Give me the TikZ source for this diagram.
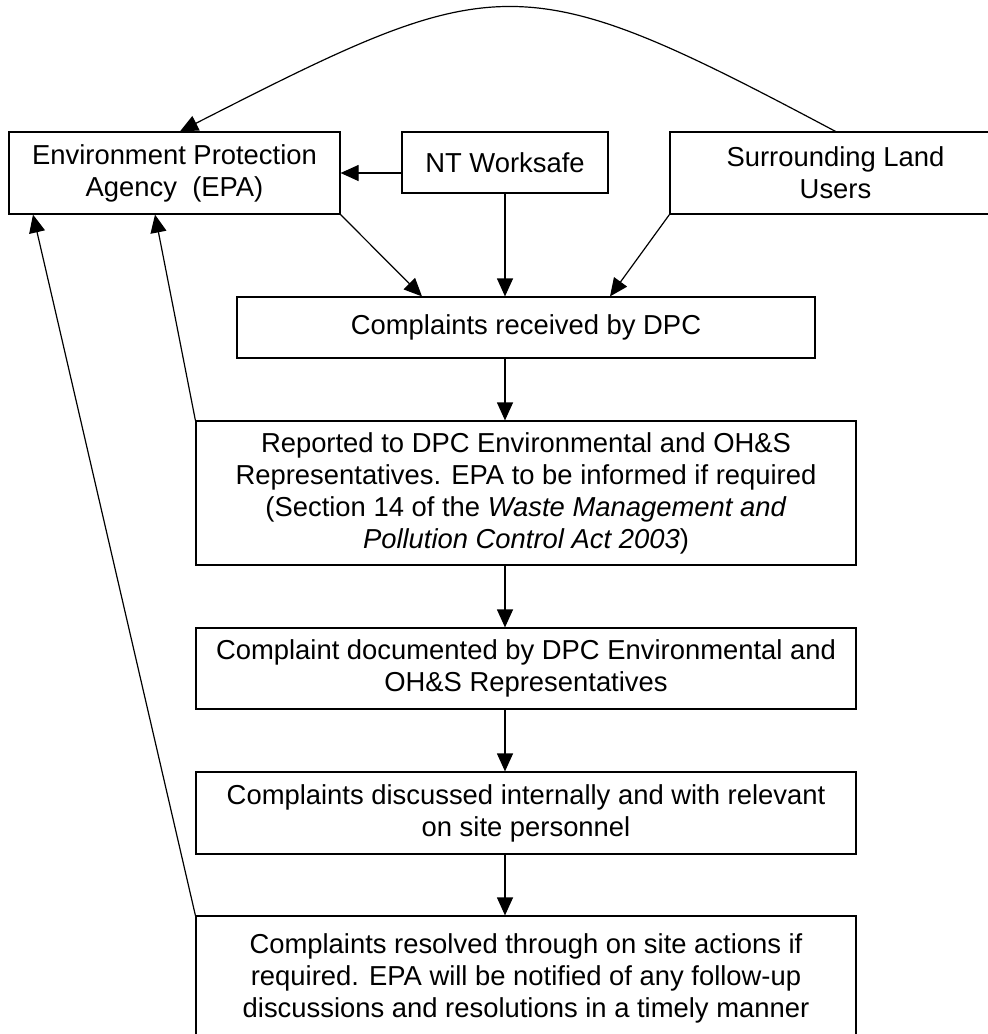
\documentclass[tikz,border=0pt]{standalone}
\usepackage{fontspec}
\setmainfont{Liberation Sans}
\usepackage{tikz}
\usetikzlibrary{
    arrows.meta,
    positioning,
    calc
}
\tikzstyle{arrow} = [
    -{Triangle[length=9pt, width=8pt]},
    line width=0.6pt
]
\tikzstyle{box} = [
    rectangle,
    draw,
    line width=0.6pt,
    align=center,
    inner sep=0pt,
    font=\fontsize{13.7}{16}\selectfont
]

\begin{document}
\begin{tikzpicture}[x=0.5pt, y=-0.5pt]
    % Page frame
    \useasboundingbox (0,0) rectangle (988,1034);
    \clip (0,0) rectangle (988,1034);

    % Sources
    \node[box, minimum width=165.5pt, minimum height=41pt] (epa) at (174.5,173)
        {Environment Protection\\Agency~~(EPA)};
    \node[box, minimum width=103pt, minimum height=30.5pt] (nt) at (505,162.5)
        {NT Worksafe};
    \node[box, minimum width=165.5pt, minimum height=41pt] (slu) at (835.5,173)
        {Surrounding Land\\Users};

    % Process steps
    \node[box, minimum width=289pt, minimum height=30.5pt] (received) at (526,327.5)
        {Complaints received by DPC};
    \node[box, minimum width=330pt, minimum height=72pt] (reported) at (526,493)
        {Reported to DPC Environmental and OH\&S\\
         Representatives. EPA to be informed if required\\
         (Section 14 of the \textit{Waste Management and}\\
         \textit{Pollution Control Act 2003})};
    \node[box, minimum width=330pt, minimum height=40.5pt] (documented) at (526,668.5)
        {Complaint documented by DPC Environmental and\\OH\&S Representatives};
    \node[box, minimum width=330pt, minimum height=41pt] (discussed) at (526,813)
        {Complaints discussed internally and with relevant\\on site personnel};
    \node[box, minimum width=330pt, minimum height=62.5pt] (resolved) at (526,978.5)
        {Complaints resolved through on site actions if\\
         required. EPA will be notified of any follow-up\\
         discussions and resolutions in a timely manner};

    % Into the complaints box
    \draw[arrow] (nt.west |- epa.east) -- (epa.east);
    \draw[arrow] (epa.south east) -- ([xshift=-52pt]received.north);
    \draw[arrow] (nt.south) -- (nt.south |- received.north);
    \draw[arrow] (slu.south west) -- ([xshift=42pt]received.north);

    % Down the chain
    \draw[arrow] (received.south -| nt) -- (reported.north -| nt);
    \draw[arrow] (reported.south -| nt) -- (documented.north -| nt);
    \draw[arrow] (documented.south -| nt) -- (discussed.north -| nt);
    \draw[arrow] (discussed.south -| nt) -- (resolved.north -| nt);

    % Back to the EPA
    \draw[arrow] (reported.north west) -- ([xshift=-9.75pt]epa.south);
    \draw[arrow] (resolved.north west) -- ([xshift=-70.75pt]epa.south);
    \draw[arrow] (slu.north) to[out=152, in=27, looseness=1.4] ([xshift=2.75pt]epa.north);
\end{tikzpicture}
\end{document}
